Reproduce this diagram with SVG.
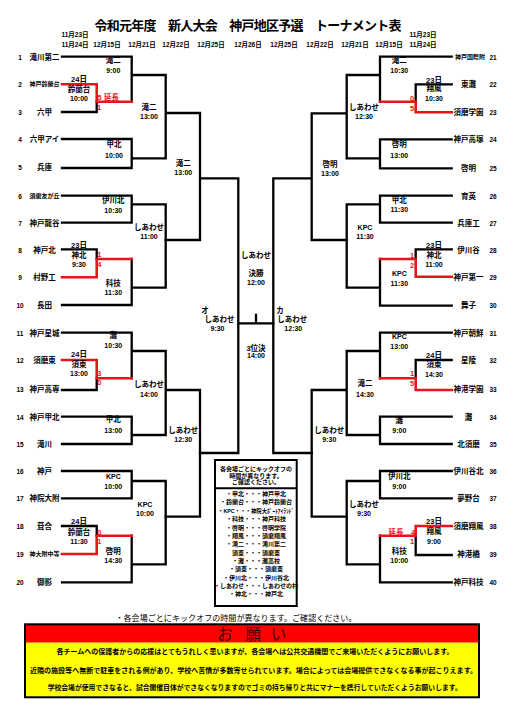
<svg xmlns="http://www.w3.org/2000/svg" width="531" height="727" viewBox="0 0 531 727">
<style>
text{font-family:"Liberation Sans","Noto Sans CJK JP",sans-serif;font-weight:bold;text-anchor:middle;dominant-baseline:central;fill:#000}
.title{font-size:13px}
.d{font-size:6.5px}
.tm{font-size:7.5px}
.sm{font-size:6px}
.no{font-size:6.5px}
.lb{font-size:7.5px}
.tt{font-size:7px}
.sc{font-size:7.5px;fill:#e8141c}
.lg{font-size:6px}
.nt{font-size:8px;font-weight:normal}
.ob{font-size:7px}
.og{font-size:15.5px;font-weight:normal;fill:#3a0000}
.k{stroke:#000;stroke-width:2.3;fill:none;stroke-linecap:square}
.r{stroke:#e8141c;stroke-width:2.6;fill:none;stroke-linecap:square}
</style>
<rect width="531" height="727" fill="#fff"/>
<g id="header">
<text class="title" x="248" y="25" textLength="307" lengthAdjust="spacing">令和元年度　新人大会　神戸地区予選　トーナメント表</text>
<text class="d" x="75" y="34">11月23日</text>
<text class="d" x="423" y="34">11月23日</text>
<text class="d" x="75" y="44">11月24日</text>
<text class="d" x="107" y="44">12月15日</text>
<text class="d" x="142" y="44">12月21日</text>
<text class="d" x="176" y="44">12月22日</text>
<text class="d" x="211" y="44">12月25日</text>
<text class="d" x="248" y="44">12月26日</text>
<text class="d" x="284" y="44">12月25日</text>
<text class="d" x="320" y="44">12月22日</text>
<text class="d" x="355" y="44">12月21日</text>
<text class="d" x="389" y="44">12月15日</text>
<text class="d" x="423" y="44">11月24日</text>
</g>
<g id="connectors">
<path class="k" d="M62,56.7H131.7V101.7M62,112H96.7V101.7M131.7,75H165.7V158.3H131.7M62,139H131.7V168H62M165.7,113H200V240H165.7M200,178.3H238.3V453H200"/>
<path class="r" d="M62,84.3H96.7V101.7H131.7"/>
<path class="k" d="M62,195.7H131.7V222.7H62M131.7,204.3H165.7V287.7H131.7M62,249.3H96.7V259M131.7,259V305H62"/>
<path class="r" d="M62,277.3H96.7V259H131.7"/>
<path class="k" d="M62,332.7H131.7V378.3M62,390H96.7V378.3M131.7,351H165.7V435H131.7M62,416.7H131.7V444H62M165.7,390H200V516.7H165.7"/>
<path class="r" d="M62,360H96.7V378.3H131.7"/>
<path class="k" d="M62,471H131.7V498.3H62M131.7,481H165.7V564.3H131.7M62,526H96.7V535.7M131.7,535.7V582.3H62"/>
<path class="r" d="M62,554H96.7V535.7H131.7"/>
<path class="k" d="M451.7,56.7H380V101.7M451.7,84.3H415.7V101.7M380,75H346.7V158.3H380M451.7,139.3H380V168.3H451.7M346.7,113.3H311.7V240H346.7M311.7,178.3H273.3V453H311.7"/>
<path class="r" d="M451.7,112.3H415.7V101.7H380"/>
<path class="k" d="M451.7,195.7H380V222.7H451.7M380,204.3H346.7V287.7H380M451.7,249.3H415.7V259M380,259V305.7H451.7"/>
<path class="r" d="M451.7,276.7H415.7V259H380"/>
<path class="k" d="M451.7,332.7H380V378.3M451.7,360H415.7V378.3M380,351H346.7V435H380M451.7,416.7H380V444H451.7M346.7,390H311.7V516.7H346.7"/>
<path class="r" d="M451.7,390H415.7V378.3H380"/>
<path class="k" d="M451.7,471H380V498.3H451.7M380,481H346.7V564.3H380M415.7,535.7V555H451.7M380,535.7V582.3H451.7"/>
<path class="r" d="M451.7,526H415.7V535.7H380"/>
<path class="k" d="M238.3,323.3H273.3M256,315V323.3"/>
</g>
<g id="teams-left">
<g id="t1"><text class="no" x="20" y="57">1</text><text class="tm" x="44.5" y="57">滝川第二</text></g>
<g id="t2"><text class="no" x="20" y="84">2</text><text class="sm" x="44.5" y="84">神戸鈴蘭台</text></g>
<g id="t3"><text class="no" x="20" y="112">3</text><text class="tm" x="44.5" y="112">六甲</text></g>
<g id="t4"><text class="no" x="20" y="139">4</text><text class="tm" x="44.5" y="139">六甲アイ</text></g>
<g id="t5"><text class="no" x="20" y="167">5</text><text class="tm" x="44.5" y="167">兵庫</text></g>
<g id="t6"><text class="no" x="20" y="196">6</text><text class="sm" x="44.5" y="196">須磨友が丘</text></g>
<g id="t7"><text class="no" x="20" y="223">7</text><text class="tm" x="44.5" y="223">神戸龍谷</text></g>
<g id="t8"><text class="no" x="20" y="250">8</text><text class="tm" x="44.5" y="250">神戸北</text></g>
<g id="t9"><text class="no" x="20" y="277">9</text><text class="tm" x="44.5" y="277">村野工</text></g>
<g id="t10"><text class="no" x="20" y="305">10</text><text class="tm" x="44.5" y="305">長田</text></g>
<g id="t11"><text class="no" x="20" y="333">11</text><text class="tm" x="44.5" y="333">神戸星城</text></g>
<g id="t12"><text class="no" x="20" y="360">12</text><text class="tm" x="44.5" y="360">須磨東</text></g>
<g id="t13"><text class="no" x="20" y="389">13</text><text class="tm" x="44.5" y="389">神戸高専</text></g>
<g id="t14"><text class="no" x="20" y="417">14</text><text class="tm" x="44.5" y="417">神戸甲北</text></g>
<g id="t15"><text class="no" x="20" y="444">15</text><text class="tm" x="44.5" y="444">滝川</text></g>
<g id="t16"><text class="no" x="20" y="471">16</text><text class="tm" x="44.5" y="471">神戸</text></g>
<g id="t17"><text class="no" x="20" y="498">17</text><text class="tm" x="44.5" y="498">神院大附</text></g>
<g id="t18"><text class="no" x="20" y="526">18</text><text class="tm" x="44.5" y="526">葺合</text></g>
<g id="t19"><text class="no" x="20" y="554">19</text><text class="sm" x="44.5" y="554">神大附中等</text></g>
<g id="t20"><text class="no" x="20" y="582">20</text><text class="tm" x="44.5" y="582">御影</text></g>
</g>
<g id="teams-right">
<g id="t21"><text class="sm" x="470" y="57">神戸国際附</text><text class="no" x="493" y="57">21</text></g>
<g id="t22"><text class="tm" x="468.5" y="84">東灘</text><text class="no" x="493" y="84">22</text></g>
<g id="t23"><text class="tm" x="468.5" y="112">須磨学園</text><text class="no" x="493" y="112">23</text></g>
<g id="t24"><text class="tm" x="468.5" y="139">神戸高塚</text><text class="no" x="493" y="139">24</text></g>
<g id="t25"><text class="tm" x="468.5" y="168">啓明</text><text class="no" x="493" y="168">25</text></g>
<g id="t26"><text class="tm" x="468.5" y="196">育英</text><text class="no" x="493" y="196">26</text></g>
<g id="t27"><text class="tm" x="468.5" y="223">兵庫工</text><text class="no" x="493" y="223">27</text></g>
<g id="t28"><text class="tm" x="468.5" y="250">伊川谷</text><text class="no" x="493" y="250">28</text></g>
<g id="t29"><text class="tm" x="468.5" y="277">神戸第一</text><text class="no" x="493" y="277">29</text></g>
<g id="t30"><text class="tm" x="468.5" y="305">舞子</text><text class="no" x="493" y="305">30</text></g>
<g id="t31"><text class="tm" x="468.5" y="333">神戸朝鮮</text><text class="no" x="493" y="333">31</text></g>
<g id="t32"><text class="tm" x="468.5" y="360">星陵</text><text class="no" x="493" y="360">32</text></g>
<g id="t33"><text class="tm" x="468.5" y="389">神港学園</text><text class="no" x="493" y="389">33</text></g>
<g id="t34"><text class="tm" x="468.5" y="417">灘</text><text class="no" x="493" y="417">34</text></g>
<g id="t35"><text class="tm" x="468.5" y="444">北須磨</text><text class="no" x="493" y="444">35</text></g>
<g id="t36"><text class="tm" x="468.5" y="471">伊川谷北</text><text class="no" x="493" y="471">36</text></g>
<g id="t37"><text class="tm" x="468.5" y="498">夢野台</text><text class="no" x="493" y="498">37</text></g>
<g id="t38"><text class="tm" x="468.5" y="526">須磨翔風</text><text class="no" x="493" y="526">38</text></g>
<g id="t39"><text class="tm" x="468.5" y="554">神港橋</text><text class="no" x="493" y="554">39</text></g>
<g id="t40"><text class="tm" x="468.5" y="582">神戸科技</text><text class="no" x="493" y="582">40</text></g>
</g>
<g id="matches-left">
<g id="mL1"><text class="lb" x="113.3" y="60.7">滝二</text><text class="tt" x="113.3" y="70">9:00</text></g>
<g id="mL2"><text class="lb" x="79" y="79.3">24日</text><text class="lb" x="79" y="89.3">鈴蘭台</text><text class="tt" x="79" y="98.3">10:00</text></g>
<g id="mL3"><text class="lb" x="149" y="107.3">滝二</text><text class="tt" x="149" y="116.7">13:00</text></g>
<g id="mL4"><text class="lb" x="114" y="144.3">甲北</text><text class="tt" x="114" y="155">10:00</text></g>
<g id="mL5"><text class="lb" x="183.3" y="163.3">滝二</text><text class="tt" x="183.3" y="172.7">13:00</text></g>
<g id="mL6"><text class="lb" x="113.3" y="200.7">伊川北</text><text class="tt" x="113.3" y="210">10:30</text></g>
<g id="mL7"><text class="lb" x="149" y="227.3">しあわせ</text><text class="tt" x="149" y="236.7">11:00</text></g>
<g id="mL8"><text class="lb" x="79" y="245">23日</text><text class="lb" x="79" y="255">神北</text><text class="tt" x="79" y="264">9:30</text></g>
<g id="mL9"><text class="lb" x="113.3" y="283.3">科技</text><text class="tt" x="113.3" y="292.3">11:30</text></g>
<g id="mL10"><text class="lb" x="113.3" y="335.7">灘</text><text class="tt" x="113.3" y="345">10:30</text></g>
<g id="mL11"><text class="lb" x="79" y="354.3">24日</text><text class="lb" x="79" y="364.3">須東</text><text class="tt" x="79" y="373.3">13:00</text></g>
<g id="mL12"><text class="lb" x="149" y="384.3">しあわせ</text><text class="tt" x="149" y="394">14:00</text></g>
<g id="mL13"><text class="lb" x="113.3" y="419.3">甲北</text><text class="tt" x="113.3" y="430">13:00</text></g>
<g id="mL14"><text class="lb" x="183.3" y="430">しあわせ</text><text class="tt" x="183.3" y="439.3">12:30</text></g>
<g id="mL15"><text class="tt" x="113.3" y="476">KPC</text><text class="tt" x="113.3" y="486">10:00</text></g>
<g id="mL16"><text class="tt" x="145" y="504.3">KPC</text><text class="tt" x="145" y="513.3">10:00</text></g>
<g id="mL17"><text class="lb" x="79" y="521.7">24日</text><text class="lb" x="79" y="532.3">鈴蘭台</text><text class="tt" x="79" y="541.7">11:30</text></g>
<g id="mL18"><text class="lb" x="113.3" y="551">啓明</text><text class="tt" x="113.3" y="560.7">14:30</text></g>
</g>
<g id="matches-right">
<g id="mR1"><text class="lb" x="399.3" y="60.7">滝二</text><text class="tt" x="399.3" y="70">10:30</text></g>
<g id="mR2"><text class="lb" x="434" y="80">23日</text><text class="lb" x="434" y="88.3">翔風</text><text class="tt" x="434" y="98.3">10:30</text></g>
<g id="mR3"><text class="lb" x="364" y="107.3">しあわせ</text><text class="tt" x="364" y="116.7">12:30</text></g>
<g id="mR4"><text class="lb" x="399.3" y="144.3">啓明</text><text class="tt" x="399.3" y="155">13:00</text></g>
<g id="mR5"><text class="lb" x="330" y="164">啓明</text><text class="tt" x="330" y="173.3">13:00</text></g>
<g id="mR6"><text class="lb" x="399.3" y="200">甲北</text><text class="tt" x="399.3" y="209">11:30</text></g>
<g id="mR7"><text class="tt" x="365" y="227.3">KPC</text><text class="tt" x="365" y="236.7">11:30</text></g>
<g id="mR8"><text class="lb" x="434" y="245">23日</text><text class="lb" x="434" y="255">神北</text><text class="tt" x="434" y="264.3">11:00</text></g>
<g id="mR9"><text class="tt" x="399.3" y="273.3">KPC</text><text class="tt" x="399.3" y="283.3">11:30</text></g>
<g id="mR10"><text class="tt" x="399.3" y="336.7">KPC</text><text class="tt" x="399.3" y="346">13:00</text></g>
<g id="mR11"><text class="lb" x="434" y="355">24日</text><text class="lb" x="434" y="364.3">須東</text><text class="tt" x="434" y="374">14:30</text></g>
<g id="mR12"><text class="lb" x="365" y="383.3">滝二</text><text class="tt" x="365" y="394">14:30</text></g>
<g id="mR13"><text class="lb" x="399.3" y="420">灘</text><text class="tt" x="399.3" y="430">9:00</text></g>
<g id="mR14"><text class="lb" x="329.3" y="430">しあわせ</text><text class="tt" x="329.3" y="439">9:30</text></g>
<g id="mR15"><text class="lb" x="399.3" y="476.7">伊川北</text><text class="tt" x="399.3" y="486.7">9:00</text></g>
<g id="mR16"><text class="lb" x="364" y="504.3">しあわせ</text><text class="tt" x="364" y="513.3">9:30</text></g>
<g id="mR17"><text class="lb" x="434" y="521.7">23日</text><text class="lb" x="434" y="531.7">翔風</text><text class="tt" x="434" y="541">9:00</text></g>
<g id="mR18"><text class="lb" x="399.3" y="551">科技</text><text class="tt" x="399.3" y="560.7">10:00</text></g>
</g>
<g id="matches-center">
<g id="final"><text class="lb" x="256" y="255">しあわせ</text><text class="lb" x="256" y="273.3">決勝</text><text class="tt" x="256" y="282.7">12:00</text></g>
<g id="third"><text class="lb" x="256" y="348.3">3位決</text><text class="tt" x="256" y="355.7">14:00</text></g>
<g id="semiL"><text class="lb" x="205" y="310">オ</text><text class="lb" x="219.5" y="319">しあわせ</text><text class="tt" x="217.5" y="328.3">9:30</text></g>
<g id="semiR"><text class="lb" x="280" y="310">カ</text><text class="lb" x="292.3" y="319">しあわせ</text><text class="tt" x="293.3" y="328.3">12:30</text></g>
</g>
<g id="scores">
<text class="sc" x="99.3" y="97.7">5</text><text class="sc" x="111.5" y="97.7">延長</text><text class="sc" x="99" y="107.3">1</text>
<text class="sc" x="99.3" y="254.3">1</text><text class="sc" x="99.3" y="264.3">4</text>
<text class="sc" x="99.3" y="373.3">3</text><text class="sc" x="99.3" y="382.7">0</text>
<text class="sc" x="99.3" y="532.3">0</text><text class="sc" x="99.3" y="541.7">1</text>
<text class="sc" x="412" y="98.3">0</text><text class="sc" x="412" y="108.3">5</text>
<text class="sc" x="412" y="255">1</text><text class="sc" x="412" y="265">2</text>
<text class="sc" x="412" y="373.3">1</text><text class="sc" x="412" y="383.3">5</text>
<text class="sc" x="396" y="532">延長</text><text class="sc" x="413" y="532">4</text><text class="sc" x="412" y="541.7">1</text>
</g>
<g id="legend">
<rect x="215" y="460" width="81.7" height="146" fill="#fff" stroke="#000" stroke-width="2"/>
<line x1="215" y1="488.3" x2="296.7" y2="488.3" stroke="#000" stroke-width="2"/>
<text class="lg" x="256" y="469">各会場ごとにキックオフの</text>
<text class="lg" x="256" y="475.7">時間が異なります。</text>
<text class="lg" x="256" y="482.3">ご確認ください。</text>
<text class="lg" x="256" y="494">・甲北・・・神戸甲北</text>
<text class="lg" x="256" y="502.3">・鈴蘭台・・・神戸鈴蘭台</text>
<text class="lg" x="256" y="510.7" textLength="76" lengthAdjust="spacingAndGlyphs">・KPC・・・神院大ﾎﾟｰﾄｱｲﾗﾝﾄﾞ</text>
<text class="lg" x="256" y="519.3">・科技・・・神戸科技</text>
<text class="lg" x="256" y="527.7">・啓明・・・啓明学院</text>
<text class="lg" x="256" y="536">・翔風・・・須磨翔風</text>
<text class="lg" x="256" y="544.3">・滝二・・・滝川第二</text>
<text class="lg" x="256" y="552.7">須東・・・須磨東</text>
<text class="lg" x="256" y="561">・灘・・・灘高校</text>
<text class="lg" x="256" y="569.3">・須東・・・須磨東</text>
<text class="lg" x="256" y="577.7">・伊川北・・・伊川谷北</text>
<text class="lg" x="256" y="586">・しあわせ・・・しあわせの村</text>
<text class="lg" x="256" y="594.3">・神北・・・神戸北</text>
</g>
<g id="note">
<text class="nt" x="236" y="618.3" textLength="241" lengthAdjust="spacingAndGlyphs">・各会場ごとにキックオフの時間が異なります。ご確認ください。</text>
</g>
<g id="request">
<rect x="25" y="624.3" width="454" height="18.4" fill="#ff0000"/>
<rect x="25" y="642.7" width="454" height="54.6" fill="#ffff00"/>
<rect x="25" y="624.3" width="454" height="73" fill="none" stroke="#000" stroke-width="2"/>
<text class="og" x="225" y="634">お</text>
<text class="og" x="253.3" y="634">願</text>
<text class="og" x="278.5" y="634">い</text>
<text class="ob" x="255" y="651.7" textLength="397" lengthAdjust="spacingAndGlyphs">各チームへの保護者からの応援はとてもうれしく思いますが、各会場へは公共交通機関でご来場いただくようにお願いします。</text>
<text class="ob" x="253.5" y="670" textLength="447" lengthAdjust="spacingAndGlyphs">近隣の施設等へ無断で駐車をされる例があり、学校へ苦情が多数寄せられています。場合によっては会場提供できなくなる事が起こりえます。</text>
<text class="ob" x="254.7" y="687.3" textLength="414" lengthAdjust="spacingAndGlyphs">学校会場が使用できなると、試合開催自体ができなくなりますのでゴミの持ち帰りと共にマナーを携行していただくようお願いします。</text>
</g>
</svg>
